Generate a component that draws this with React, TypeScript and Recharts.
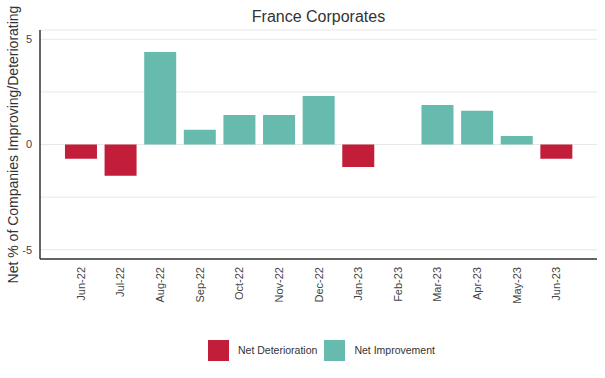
import React from 'react';
import { BarChart, Bar, XAxis, YAxis, CartesianGrid, Legend } from 'recharts';

const categories = ['Jun-22', 'Jul-22', 'Aug-22', 'Sep-22', 'Oct-22', 'Nov-22', 'Dec-22', 'Jan-23', 'Feb-23', 'Mar-23', 'Apr-23', 'May-23', 'Jun-23'];
const deterioration: (number | null)[] = [-0.68, -1.49, null, null, null, null, null, -1.07, null, null, null, null, -0.68];
const improvement: (number | null)[] = [null, null, 4.39, 0.7, 1.4, 1.4, 2.3, null, null, 1.88, 1.6, 0.4, null];
const yTicks = [-5, -2.5, 0, 2.5, 5];

const RED = '#c21e3a';
const TEAL = '#66bbae';
const FONT = '"Liberation Sans", Arial, sans-serif';

const data = categories.map((c, i) => ({ month: c, det: deterioration[i], imp: improvement[i] }));

const XTick = (props: any) => {
  const { x, y, payload } = props;
  return (
    <g transform={`translate(${x},${y})`}>
      <text x={0} y={0} dy={4} textAnchor="end" transform="rotate(-90)" fontSize={11} fill="#444" fontFamily={FONT}>
        {payload.value}
      </text>
    </g>
  );
};

const YLabel = (props: any) => {
  const { viewBox } = props;
  const cy = viewBox.y + viewBox.height / 2;
  const lx = 18;
  return (
    <text x={lx} y={cy} transform={`rotate(-90, ${lx}, ${cy})`} textAnchor="middle" fontSize={14} fill="#333" fontFamily={FONT}>
      Net % of Companies Improving/Deteriorating
    </text>
  );
};

const LegendContent = () => (
  <div style={{ display: 'flex', alignItems: 'center', height: 40, paddingLeft: 208, fontFamily: FONT, fontSize: 10.5, color: '#333' }}>
    <div style={{ width: 21, height: 21, background: RED }} />
    <span style={{ marginLeft: 9, marginRight: 7 }}>Net Deterioration</span>
    <div style={{ width: 21, height: 21, background: TEAL }} />
    <span style={{ marginLeft: 9 }}>Net Improvement</span>
  </div>
);

export default function App() {
  return (
    <div style={{ position: 'absolute', left: 0, top: 0, width: 605, height: 378, background: '#fff' }}>
      <div style={{ position: 'absolute', left: 40, top: 9, width: 557, textAlign: 'center', fontFamily: FONT, fontSize: 16, lineHeight: '16px', color: '#333' }}>
        France Corporates
      </div>
      <BarChart width={605} height={378} data={data} margin={{ top: 30, right: 8, left: 0, bottom: 8 }} stackOffset="sign" barCategoryGap="10%">
        <CartesianGrid vertical={false} stroke="#e8e8e8" />
        <XAxis dataKey="month" height={71} padding={{ left: 21, right: 21 }} tickLine={false} axisLine={{ stroke: '#333', strokeWidth: 1.5 }} tick={<XTick />} interval={0} />
        <YAxis width={40} domain={[-5.44, 5.44]} ticks={yTicks} tickFormatter={(v: number) => (Number.isInteger(v) ? String(v) : '')} tickLine={false} axisLine={{ stroke: '#333', strokeWidth: 1.5 }} tick={{ fontSize: 11, fill: '#444', fontFamily: FONT }} label={<YLabel />} />
        <Legend verticalAlign="bottom" height={40} content={<LegendContent />} wrapperStyle={{ left: 0, width: 605 }} />
        <Bar dataKey="det" name="Net Deterioration" stackId="s" fill={RED} isAnimationActive={false} />
        <Bar dataKey="imp" name="Net Improvement" stackId="s" fill={TEAL} isAnimationActive={false} />
      </BarChart>
    </div>
  );
}
